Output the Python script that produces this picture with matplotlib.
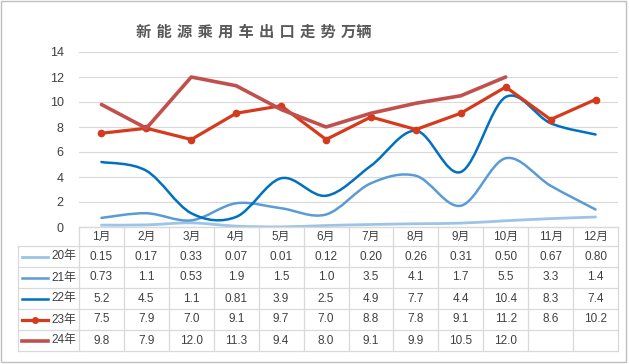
import numpy as np
import matplotlib
matplotlib.use("Agg")
import matplotlib.pyplot as plt
from matplotlib.path import Path
from matplotlib.patches import PathPatch, Rectangle

plt.rcParams['font.family'] = ['Liberation Sans', 'Noto Sans CJK SC', 'DejaVu Sans']

months = ["1月", "2月", "3月", "4月", "5月", "6月", "7月", "8月", "9月", "10月", "11月", "12月"]
series_names = ["20年", "21年", "22年", "23年", "24年"]
y20 = [0.15, 0.17, 0.33, 0.07, 0.01, 0.12, 0.20, 0.26, 0.31, 0.50, 0.67, 0.80]
y21 = [0.73, 1.1, 0.53, 1.9, 1.5, 1.0, 3.5, 4.1, 1.7, 5.5, 3.3, 1.4]
y22 = [5.2, 4.5, 1.1, 0.81, 3.9, 2.5, 4.9, 7.7, 4.4, 10.4, 8.3, 7.4]
y23 = [7.5, 7.9, 7.0, 9.1, 9.7, 7.0, 8.8, 7.8, 9.1, 11.2, 8.6, 10.2]
y24 = [9.8, 7.9, 12.0, 11.3, 9.4, 8.0, 9.1, 9.9, 10.5, 12.0, None, None]
labels20 = ["0.15", "0.17", "0.33", "0.07", "0.01", "0.12", "0.20", "0.26", "0.31", "0.50", "0.67", "0.80"]
labels21 = ["0.73", "1.1", "0.53", "1.9", "1.5", "1.0", "3.5", "4.1", "1.7", "5.5", "3.3", "1.4"]
labels22 = ["5.2", "4.5", "1.1", "0.81", "3.9", "2.5", "4.9", "7.7", "4.4", "10.4", "8.3", "7.4"]
labels23 = ["7.5", "7.9", "7.0", "9.1", "9.7", "7.0", "8.8", "7.8", "9.1", "11.2", "8.6", "10.2"]
labels24 = ["9.8", "7.9", "12.0", "11.3", "9.4", "8.0", "9.1", "9.9", "10.5", "12.0", "", ""]
yticks = [0, 2, 4, 6, 8, 10, 12, 14]

colors = ["#9DC3E6", "#5B9BD5", "#0070C0", "#D63A1C", "#C0504D"]
widths = [2.0, 1.8, 1.8, 2.3, 2.6]
smooth = [True, True, True, False, False]
markers = [None, None, None, "o", None]
all_vals = [y20, y21, y22, y23, y24]
all_labels = [labels20, labels21, labels22, labels23, labels24]

W, H = 629, 364
fig = plt.figure(figsize=(W / 100, H / 100), dpi=100)
fig.patch.set_facecolor("white")

def px_rect(x0, y0, x1, y1):
    return [x0 / W, (H - y1) / H, (x1 - x0) / W, (y1 - y0) / H]

grid_c = "#D9D9D9"
text_c = "#404040"

ax = fig.add_axes(px_rect(79, 52, 618, 227))
ax.set_xlim(-0.5, 11.5)
ax.set_ylim(0, 14)
ax.set_yticks(yticks)
ax.set_yticklabels([str(t) for t in yticks], fontsize=9, color=text_c)
ax.tick_params(axis="y", length=0, pad=11)
ax.set_xticks([])
for s in ["top", "right", "left"]:
    ax.spines[s].set_visible(False)
ax.spines["bottom"].set_color(grid_c)
ax.grid(axis="y", color=grid_c, lw=0.8)
ax.set_axisbelow(True)


def smooth_path(xs, ys):
    pts = np.array([(x, y) for x, y in zip(xs, ys) if y is not None], dtype=float)
    verts = [tuple(pts[0])]
    codes = [Path.MOVETO]
    n = len(pts)
    for i in range(n - 1):
        p0 = pts[i - 1] if i > 0 else pts[i]
        p1 = pts[i]
        p2 = pts[i + 1]
        p3 = pts[i + 2] if i + 2 < n else pts[i + 1]
        c1 = p1 + (p2 - p0) / 6.0
        c2 = p2 - (p3 - p1) / 6.0
        verts += [tuple(c1), tuple(c2), tuple(p2)]
        codes += [Path.CURVE4] * 3
    return Path(verts, codes)

x = np.arange(len(months))
for vals, c, lw, sm, mk in zip(all_vals, colors, widths, smooth, markers):
    if sm:
        patch = PathPatch(smooth_path(x, vals), facecolor="none", edgecolor=c, lw=lw,
                          capstyle="round", joinstyle="round")
        ax.add_patch(patch)
    else:
        xv = [xi for xi, v in zip(x, vals) if v is not None]
        yv = [v for v in vals if v is not None]
        ax.plot(xv, yv, color=c, lw=lw, marker=mk, markersize=4.5 if mk else 0,
                solid_capstyle="round", solid_joinstyle="round")

fig.text(254 / W, 1 - 32 / H, "新 能 源 乘 用 车 出 口 走 势 万辆",
         ha="center", va="center", fontsize=11, color="#595959", fontweight="bold",
         family=["DejaVu Sans", "Noto Sans CJK SC"])

# data table
colw = (618 - 79) / 12
left_data = -0.5 - (79 - 18) / colw
tab = fig.add_axes(px_rect(18, 227, 618, 351))
tab.set_xlim(left_data, 11.5)
tab.set_ylim(124, 0)
tab.axis("off")
rows = [0, 19, 40, 61, 82, 103, 124]
for i, yb in enumerate(rows):
    x0 = -0.5 if i == 0 else left_data
    tab.plot([x0, 11.5], [yb, yb], color=grid_c, lw=0.9, clip_on=False)
tab.plot([left_data, left_data], [19, 124], color=grid_c, lw=0.9, clip_on=False)
for k in range(13):
    tab.plot([k - 0.5, k - 0.5], [0, 124], color=grid_c, lw=0.9, clip_on=False)

for i, m in enumerate(months):
    tab.text(i, 10, m, ha="center", va="center", fontsize=8.5, color=text_c)
for r, (name, labs, c, lw, mk) in enumerate(zip(series_names, all_labels, colors, widths, markers)):
    yc = (rows[r + 1] + rows[r + 2]) / 2
    for i, lab in enumerate(labs):
        tab.text(i, yc, lab, ha="center", va="center", fontsize=8.5, color=text_c)
    lx0 = -0.5 + (22 - 79) / colw
    lx1 = -0.5 + (48 - 79) / colw
    tab.plot([lx0, lx1], [yc, yc], color=c, lw=lw, clip_on=False)
    if mk:
        tab.plot([(lx0 + lx1) / 2], [yc], color=c, marker=mk, markersize=4, clip_on=False)
    tab.text(-0.5 + (76 - 79) / colw, yc, name, ha="right", va="center", fontsize=8.5, color=text_c)

fig.add_artist(Rectangle((0.5 / W, 1 - 362 / H), 625 / W, 361.5 / H, transform=fig.transFigure,
                         fill=False, edgecolor="#BFBFBF", lw=1))

fig.savefig("out.png", dpi=100)
